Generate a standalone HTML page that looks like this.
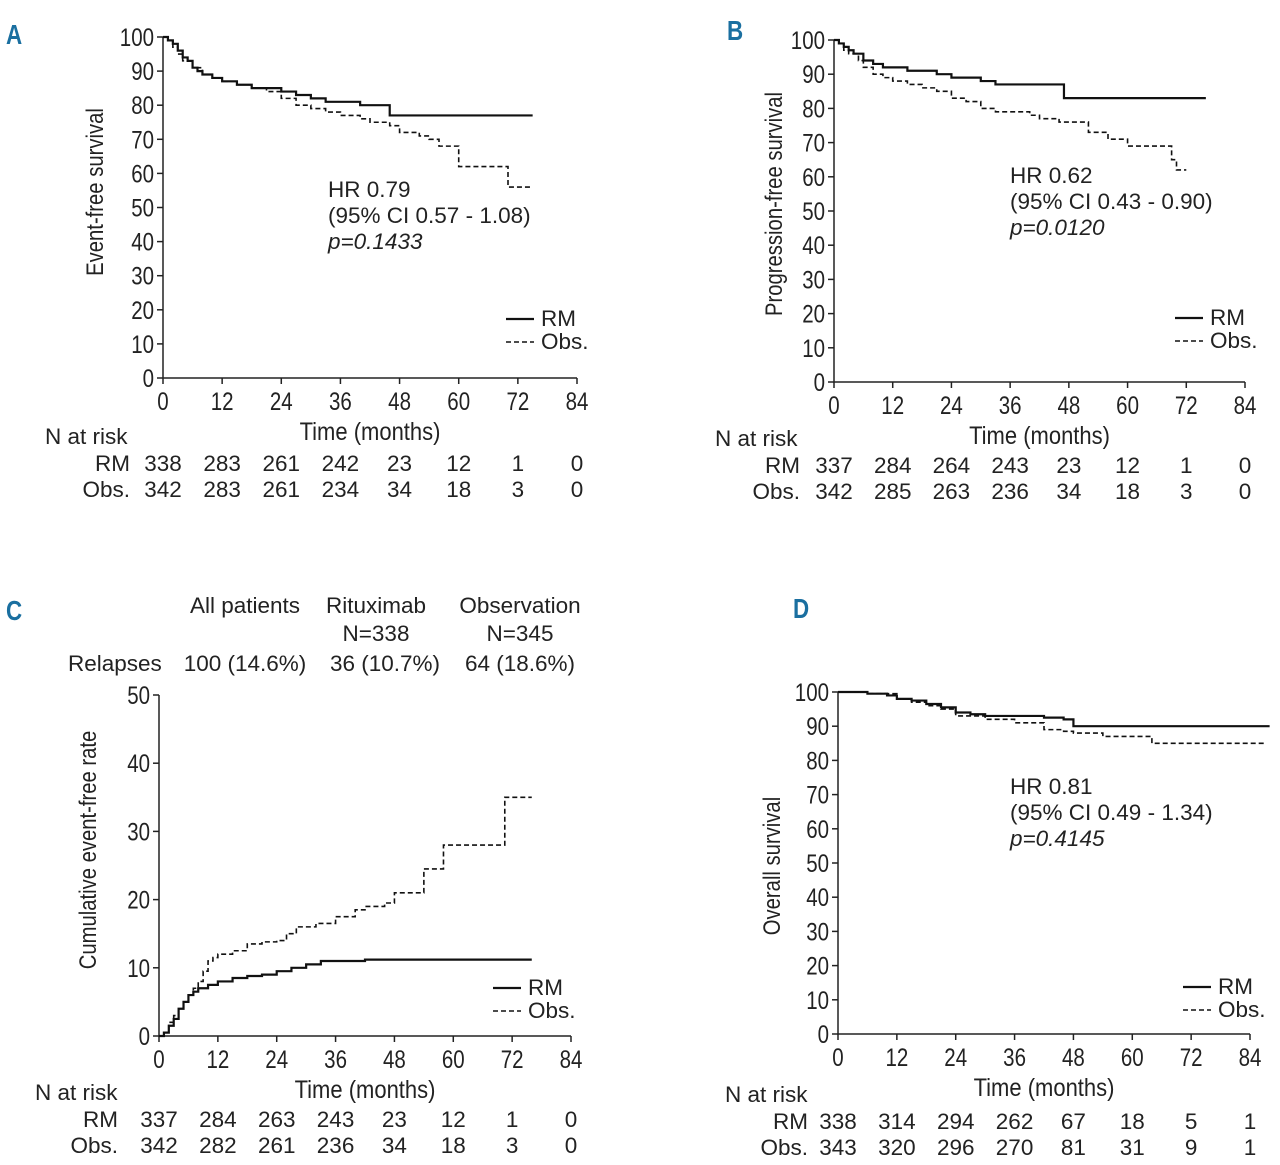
<!DOCTYPE html>
<html><head><meta charset="utf-8"><style>
body{margin:0;background:#fff;}
svg{display:block;font-family:"Liberation Sans",sans-serif;}
.t{font-family:"Liberation Sans",sans-serif;font-size:22.5px;fill:#222;}
.tk{font-family:"Liberation Sans",sans-serif;font-size:25px;fill:#222;}
.lt{font-family:"Liberation Sans",sans-serif;font-size:25px;fill:#222;}
.pl{font-family:"Liberation Sans",sans-serif;font-size:28px;font-weight:bold;fill:#1a6fa0;}
</style></head><body>
<svg id="c" width="1280" height="1165" viewBox="0 0 1280 1165"></svg>
<script>
const xTicks=[0,12,24,36,48,60,72,84];
const aRM=[[0,100],[1,99],[2,98],[3,96],[4,94],[5,93],[6,91],[7,90],[8,89],[10,88],[12,87],[15,86],[18,85],[21,85],[24,84],[27,83],[30,82],[33,81],[36,81],[40,80],[44,80],[46,77],[75,77]];
const aObs=[[0,100],[1,99],[2,97],[3,95],[4,93],[6,91],[8,89],[10,88],[12,87],[15,86],[18,85],[21,84],[24,82],[27,80],[30,79],[33,78],[36,77],[40,76],[42,75],[46,74],[48,72],[52,71],[54,70],[56,68],[60,62],[66,62],[70,56],[75,56]];
const bRM=[[0,100],[1,99],[2,98],[3,97],[4,96],[6,94],[8,93],[10,92],[12,92],[15,91],[18,91],[21,90],[24,89],[27,89],[30,88],[33,87],[36,87],[46,87],[47,83],[76,83]];
const bObs=[[0,100],[1,99],[2,97],[3,96],[5,94],[6,92],[8,90],[10,89],[12,88],[15,87],[18,86],[21,85],[24,83],[27,82],[30,80],[33,79],[36,79],[40,78],[42,77],[46,76],[48,76],[52,73],[54,73],[56,71],[60,69],[66,69],[69,65],[70,62],[72,62]];
const cRM=[[0,0],[1,0.5],[2,1.5],[3,2.5],[4,4],[5,5],[6,6],[7,6.5],[8,7],[10,7.5],[12,8],[15,8.5],[18,8.8],[21,9],[24,9.5],[27,10],[30,10.5],[33,11],[36,11],[42,11.2],[48,11.2],[76,11.2]];
const cObs=[[0,0],[1,0.5],[2,2],[3,3],[4,4],[5,5],[6,6],[7,7],[8,8],[9,9.5],[10,11],[11,11.5],[12,12],[15,12.5],[18,13.5],[21,13.8],[24,14],[26,15],[28,16],[32,16.5],[36,17.5],[40,18.5],[42,19],[46,19.5],[48,21],[52,21],[54,24.5],[58,28],[70,28],[70.5,35],[76,35]];
const dRM=[[0,100],[6,99.5],[10,99],[12,98],[15,97.5],[18,96.5],[21,95.5],[24,94],[27,93.5],[30,93],[36,93],[42,92.5],[46,92],[48,90],[88,90]];
const dObs=[[0,100],[6,99.5],[12,98],[15,97],[18,96],[21,95],[24,93],[30,92],[36,91],[42,89],[46,88.5],[48,88],[54,87],[60,87],[64,85],[87,85]];
const aRiskRM=[338,283,261,242,23,12,1,0],aRiskObs=[342,283,261,234,34,18,3,0];
const bRiskRM=[337,284,264,243,23,12,1,0],bRiskObs=[342,285,263,236,34,18,3,0];
const cRiskRM=[337,284,263,243,23,12,1,0],cRiskObs=[342,282,261,236,34,18,3,0];
const dRiskRM=[338,314,294,262,67,18,5,1],dRiskObs=[343,320,296,270,81,31,9,1];

const svg=document.getElementById('c');const NS='http://www.w3.org/2000/svg';
function el(tag,attrs,parent){const e=document.createElementNS(NS,tag);for(const k in attrs)e.setAttribute(k,attrs[k]);(parent||svg).appendChild(e);return e;}
function txt(s,x,y,cls,anchor,parent){const e=el('text',{x:x,y:y,class:cls,'text-anchor':anchor||'start'},parent);e.textContent=s;return e;}
function ntxt(s,x,y,cls,anchor,parent,sc){const e=el('text',{x:0,y:0,class:cls,'text-anchor':anchor||'start',transform:`translate(${x},${y}) scale(${sc||0.82},1)`},parent);e.textContent=s;return e;}

function panel(p){
 const g=el('g',{});
 
 
 const sx=m=>p.x0+(m/84)*(p.x1-p.x0);
 const sy=v=>p.y0-(v/p.ymax)*(p.y0-p.y1);
 const ax=el('path',{d:`M${p.x0} ${p.y1}V${p.y0}H${p.x1}`,stroke:'#222','stroke-width':1.5,fill:'none'},g);
 
 
 for(let v=0;v<=p.ymax;v+=p.ystep){const y=sy(v);el('line',{x1:p.x0-6,x2:p.x0,y1:y,y2:y,stroke:'#222','stroke-width':1.5},g);
  const t=ntxt(String(v),p.x0-9,y+9,'tk','end',g);}
 xTicks.forEach(m=>{const x=sx(m);el('line',{x1:x,x2:x,y1:p.y0,y2:p.y0+6,stroke:'#222','stroke-width':1.5},g);
  const t=ntxt(String(m),x,p.y0+32,'tk','middle',g);});
 const xl=ntxt('Time (months)',(p.x0+p.x1)/2,p.y0+62,'lt','middle',g,0.88);
 const yl=txt(p.ylab,0,0,'t','middle',g);yl.setAttribute('transform',`translate(${p.ylx},${p.yly}) rotate(-90) scale(0.9,1.05)`);
 [[p.rm,'none','rm'],[p.obs,'5,3','obs']].forEach(([d,da,n])=>{let s=`M${sx(d[0][0])} ${sy(d[0][1])}`;for(let i=1;i<d.length;i++){s+=`H${sx(d[i][0])}V${sy(d[i][1])}`;}
  const pa=el('path',{d:s,stroke:'#111','stroke-width':n=='rm'?2.2:1.6,fill:'none','stroke-dasharray':da},g);});
 const lg=el('g',{},g);
 el('line',{x1:p.lx,x2:p.lx+28,y1:p.ly,y2:p.ly,stroke:'#111','stroke-width':2.2},lg);
 el('line',{x1:p.lx,x2:p.lx+28,y1:p.ly+23,y2:p.ly+23,stroke:'#111','stroke-width':1.6,'stroke-dasharray':'5,3'},lg);
 txt('RM',p.lx+35,p.ly+7,'t','start',lg);txt('Obs.',p.lx+35,p.ly+30,'t','start',lg);
 if(p.hr){const h=el('g',{},g);
  txt(p.hr[0],p.hx,p.hy,'t','start',h);txt(p.hr[1],p.hx,p.hy+26,'t','start',h);const it=txt(p.hr[2],p.hx,p.hy+52,'t','start',h);it.setAttribute('font-style','italic');}
 const rk=el('g',{},g);
 txt('N at risk',p.nx,p.ny,'t','start',rk);txt('RM',p.rlx,p.ny+27,'t','end',rk);txt('Obs.',p.rlx,p.ny+53,'t','end',rk);
 p.rr.forEach((v,i)=>txt(String(v),sx(xTicks[i]),p.ny+27,'t','middle',rk));
 p.ro.forEach((v,i)=>txt(String(v),sx(xTicks[i]),p.ny+53,'t','middle',rk));
 const L=ntxt(p.id,p.lbx,p.lby,'pl','start',g,0.8);
}
panel({id:'A',x0:163,x1:577,y0:378,y1:37,ymax:100,ystep:10,ylab:'Event-free survival',ylx:103,yly:192,rm:aRM,obs:aObs,lx:506,ly:319,hr:['HR 0.79','(95% CI 0.57 - 1.08)','p=0.1433'],hx:328,hy:197,nx:45,ny:444,rlx:130,rr:aRiskRM,ro:aRiskObs,lbx:6,lby:44});
panel({id:'B',x0:834,x1:1245,y0:382,y1:40,ymax:100,ystep:10,ylab:'Progression-free survival',ylx:782,yly:204,rm:bRM,obs:bObs,lx:1175,ly:318,hr:['HR 0.62','(95% CI 0.43 - 0.90)','p=0.0120'],hx:1010,hy:183,nx:715,ny:446,rlx:800,rr:bRiskRM,ro:bRiskObs,lbx:727,lby:40});
panel({id:'C',x0:159,x1:571,y0:1036,y1:695,ymax:50,ystep:10,ylab:'Cumulative event-free rate',ylx:96,yly:850,rm:cRM,obs:cObs,lx:493,ly:988,hr:null,nx:35,ny:1100,rlx:118,rr:cRiskRM,ro:cRiskObs,lbx:6,lby:620});
panel({id:'D',x0:838,x1:1250,y0:1034,y1:692,ymax:100,ystep:10,ylab:'Overall survival',ylx:780,yly:866,rm:dRM,obs:dObs,lx:1183,ly:987,hr:['HR 0.81','(95% CI 0.49 - 1.34)','p=0.4145'],hx:1010,hy:794,nx:725,ny:1102,rlx:808,rr:dRiskRM,ro:dRiskObs,lbx:793,lby:618});
const hd=el('g',{});
[['All patients',245,613],['Rituximab',376,613],['Observation',520,613],['N=338',376,641],['N=345',520,641],['100 (14.6%)',245,671],['36 (10.7%)',385,671],['64 (18.6%)',520,671]].forEach(a=>txt(a[0],a[1],a[2],'t','middle',hd));
txt('Relapses',68,671,'t','start',hd);
</script>
</body></html>
